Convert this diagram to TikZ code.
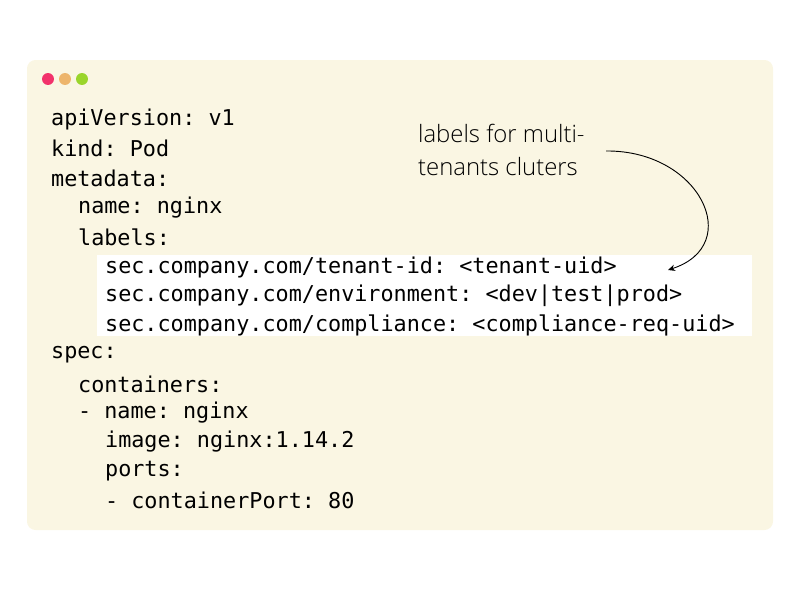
\documentclass[tikz,border=0pt]{standalone}
\usepackage{fontspec}
\setmonofont{DejaVu Sans Mono}
\newfontfamily\notefont{Open Sans Light}
\usetikzlibrary{arrows.meta}
\definecolor{cream}{HTML}{FAF6E3}
\definecolor{dotred}{HTML}{F2326B}
\definecolor{dotorange}{HTML}{EDB56C}
\definecolor{dotgreen}{HTML}{9AD52B}

\tikzset{
  codeline/.style={anchor=west, inner sep=0pt, font=\ttfamily\fontsize{31}{31}\selectfont},
  note/.style={anchor=west, inner sep=0pt, font=\notefont\fontsize{34}{34}\selectfont},
  dot/.style={circle, inner sep=0pt, minimum size=17}
}

\begin{document}
\begin{tikzpicture}[x=0.05cm, y=-0.05cm]
    \useasboundingbox (0,0) rectangle (800,600);
    \fill[cream, rounded corners=12] (27,60) rectangle (773,530);
    \node[dot, fill=dotred] (d1) at (48,79) {};
    \node[dot, fill=dotorange] (d2) at (65,79) {};
    \node[dot, fill=dotgreen] (d3) at (82,79) {};
    \fill[white] (97,255) rectangle (752,336);
    \node[codeline] (l1) at (51,119) {apiVersion: v1};
    \node[codeline] (l2) at (51,148) {kind: Pod};
    \node[codeline] (l3) at (51,178) {metadata:};
    \node[codeline] (l4) at (78,208) {name: nginx};
    \node[codeline] (l5) at (78,237) {labels:};
    \node[codeline] (l6) at (105,267) {sec.company.com/tenant-id: <tenant-uid>};
    \node[codeline] (l7) at (105,296) {sec.company.com/environment: <dev|test|prod>};
    \node[codeline] (l8) at (105,325) {sec.company.com/compliance: <compliance-req-uid>};
    \node[codeline] (l9) at (51,355) {spec:};
    \node[codeline] (l10) at (78,384) {containers:};
    \node[codeline] (l11) at (78,413) {- name: nginx};
    \node[codeline] (l12) at (105,442) {image: nginx:1.14.2};
    \node[codeline] (l13) at (105,471) {ports:};
    \node[codeline] (l14) at (105,500) {- containerPort: 80};
    % hand-written note
    \node[note] (n1) at (418,133) {labels for multi-};
    \node[note] (n2) at (418,167) {tenants cluters};
    \coordinate (tip) at (668,270);
    \draw[line width=1.3pt, -{Stealth[length=10pt,width=9pt]}] (606,151)
      .. controls (700,150) and (745,245) .. (tip);
\end{tikzpicture}
\end{document}
